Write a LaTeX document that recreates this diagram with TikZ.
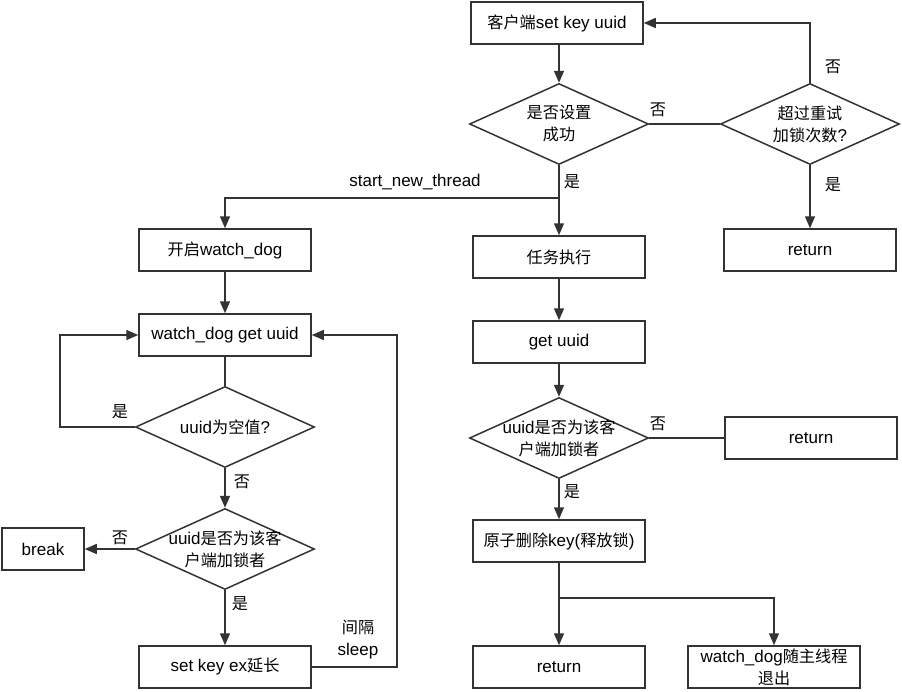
\documentclass[tikz,border=0pt]{standalone}
\usepackage{fontspec}
\setmainfont{Liberation Sans}
\newfontfamily\cjk[Scale=0.95]{Noto Sans CJK SC}
\usetikzlibrary{shapes.geometric,arrows.meta}
\definecolor{lc}{HTML}{333333}
\tikzset{
  box/.style={draw=lc, line width=1.5pt, rectangle, minimum width=172pt, minimum height=42pt, inner sep=2pt, align=center},
  dia/.style={draw=lc, line width=1.5pt, diamond, aspect=2.2, minimum width=179pt, minimum height=81pt, inner sep=0pt},
  arr/.style={draw=lc, line width=1.5pt, -{Triangle[length=12pt,width=10pt]}},
  lne/.style={draw=lc, line width=1.5pt},
  lbl/.style={inner sep=0pt, align=center}
}
\begin{document}
\begin{tikzpicture}[x=1pt, y=-1pt, font=\fontsize{17}{22}\selectfont]
\useasboundingbox (0,0) rectangle (902,691);

% main thread
\node[box] (set) at (557,23) {{\cjk 客户端}set key uuid};
\node[dia] (d1) at (559,124) {};
\node[lbl] (d1t) at (d1) {{\cjk 是否设置}\\{\cjk 成功}};
\node[dia] (retry) at (810,124) {};
\node[lbl] (retryt) at (retry) {{\cjk 超过重试}\\{\cjk 加锁次数}?};
\node[box] (ret1) at (810,250) {return};
\node[box] (task) at (559,257) {\cjk 任务执行};
\node[box] (get) at (559,342) {get uuid};
\node[dia] (d3) at (559,438) {};
\node[lbl] (d3t) at (d3) {uuid{\cjk 是否为该客}\\{\cjk 户端加锁者}};
\node[box] (ret2) at (811,438) {return};
\node[box] (del) at (559,541) {{\cjk 原子删除}key({\cjk 释放锁})};
\node[box] (ret3) at (559,667) {return};
\node[box] (exit) at (774,667) {watch\_dog{\cjk 随主线程}\\{\cjk 退出}};

% watch dog thread
\node[box] (wd) at (225,250) {{\cjk 开启}watch\_dog};
\node[box] (wget) at (225,335) {watch\_dog get uuid};
\node[dia] (d4) at (225,427) {};
\node[lbl] (d4t) at (d4) {uuid{\cjk 为空值}?};
\node[dia] (d5) at (225,549) {};
\node[lbl] (d5t) at (d5) {uuid{\cjk 是否为该客}\\{\cjk 户端加锁者}};
\node[box, minimum width=82pt] (brk) at (43,549) {break};
\node[box] (setex) at (225,667) {set key ex{\cjk 延长}};

\coordinate (br1) at (559,198);
\coordinate (br2) at (559,598);

% connectors
\draw[arr] (set.south -| d1) -- (d1.north);
\draw[lne] (d1.east) -- (retry.west);
\draw[arr] (retry.north) |- (set.east);
\draw[arr] (retry.south) -- (ret1.north);
\draw[arr] (d1.south) -- (task.north);
\draw[arr] (br1) -| (wd.north);
\draw[arr] (task) -- (get);
\draw[arr] (get) -- (d3);
\draw[lne] (d3.east) -- (ret2.west);
\draw[arr] (d3.south) -- (del.north);
\draw[lne] (del.south) -- (br2);
\draw[arr] (br2) -- (ret3.north);
\draw[arr] (br2) -| (exit.north);

\draw[arr] (wd) -- (wget);
\draw[lne] (wget.south) -- (d4.north);
\draw[arr] (d4.west) -- ++(-75,0) |- (wget.west);
\draw[arr] (d4.south) -- (d5.north);
\draw[arr] (d5.west) -- (brk.east);
\draw[arr] (d5.south) -- (setex.north);
\draw[arr] (setex.east) -- ++(85,0) |- (wget.east);

% labels
\node[lbl] (l1) at (658,110) {\cjk 否};
\node[lbl] (l2) at (833,67) {\cjk 否};
\node[lbl] (l3) at (833,185) {\cjk 是};
\node[lbl] (l4) at (572,182) {\cjk 是};
\node[lbl] (l5) at (415,182) {start\_new\_thread};
\node[lbl] (l6) at (658,424) {\cjk 否};
\node[lbl] (l7) at (572,492) {\cjk 是};
\node[lbl] (l8) at (120,412) {\cjk 是};
\node[lbl] (l9) at (242,482) {\cjk 否};
\node[lbl] (l10) at (120,538) {\cjk 否};
\node[lbl] (l11) at (240,604) {\cjk 是};
\node[lbl] (l12) at (358,640) {{\cjk 间隔}\\sleep};
\end{tikzpicture}
\end{document}
